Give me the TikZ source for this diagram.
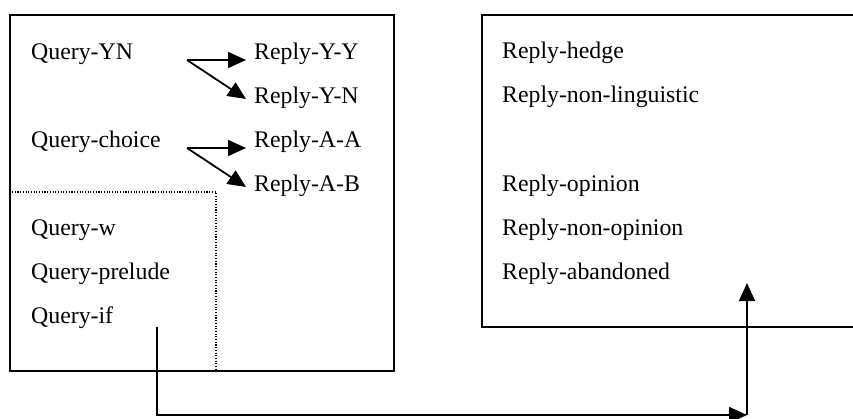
\documentclass[tikz,border=0pt]{standalone}
\usepackage{fontspec}
\setmainfont{Liberation Serif}
\usetikzlibrary{arrows.meta}
\tikzset{
  lbl/.style={anchor=base west,inner sep=0pt,font=\fontsize{23.8}{28}\selectfont},
  boxline/.style={line width=1.6pt},
  conn/.style={line width=1.8pt,-{Triangle[length=18pt,width=16pt]}},
  dotline/.style={line width=1.1pt,dash pattern=on 1.1pt off 1.6pt}
}
\begin{document}
\begin{tikzpicture}[x=1pt,y=-1pt]
\useasboundingbox (0,0) rectangle (853,418);
\clip (0,0) rectangle (853,418);
% boxes
\draw[boxline] (10,15) rectangle (394,371);
\draw[boxline] (482,15) rectangle (870,327);
\draw[dotline] (12,192) -- (216,192) -- (216,370);
% left texts
\node[lbl] (qyn) at (31,59) {Query-YN};
\node[lbl] (ryy) at (254,59) {Reply-Y-Y};
\node[lbl] (ryn) at (254,103) {Reply-Y-N};
\node[lbl] (qch) at (31,147) {Query-choice};
\node[lbl] (raa) at (254,147) {Reply-A-A};
\node[lbl] (rab) at (254,191) {Reply-A-B};
\node[lbl] (qw) at (31,235) {Query-w};
\node[lbl] (qpr) at (31,279) {Query-prelude};
\node[lbl] (qif) at (31,323) {Query-if};
% right texts
\node[lbl] (rh) at (502,58) {Reply-hedge};
\node[lbl] (rnl) at (502,102) {Reply-non-linguistic};
\node[lbl] (rop) at (502,191) {Reply-opinion};
\node[lbl] (rnop) at (502,235) {Reply-non-opinion};
\node[lbl] (rab2) at (502,279) {Reply-abandoned};
% arrow anchors
\coordinate (s1) at (187,60);
\coordinate (t1) at (246,60);
\coordinate (t2) at (246,99);
\coordinate (s2) at (187,148);
\coordinate (t3) at (246,148);
\coordinate (t4) at (246,187);
\draw[conn] (s1) -- (t1);
\draw[conn] (s1) -- (t2);
\draw[conn] (s2) -- (t3);
\draw[conn] (s2) -- (t4);
% bottom connector
\coordinate (b0) at (157,327);
\coordinate (b1) at (157,415);
\coordinate (b2) at (747,415);
\coordinate (b3) at (747,283);
\draw[conn] (b0) -- (b1) -- (b2);
\draw[conn] (b2) -- (b3);
\end{tikzpicture}
\end{document}
